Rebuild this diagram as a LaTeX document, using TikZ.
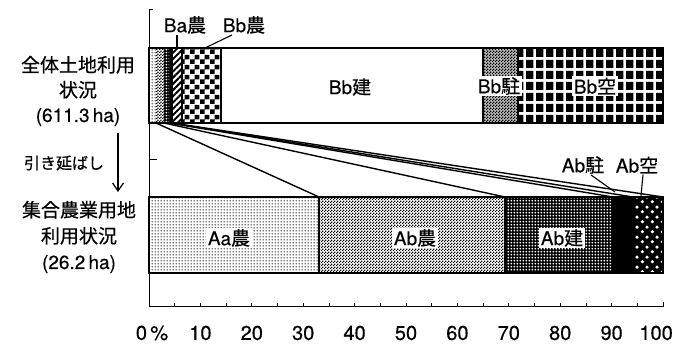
\documentclass[tikz,border=0pt]{standalone}
\usepackage{fontspec}
\setmainfont{TeX Gyre Heros}[FakeBold=0.5]
\newfontfamily\cjk{Noto Sans CJK JP}[FakeBold=0.5]
\usetikzlibrary{patterns,patterns.meta,arrows.meta}

\pgfdeclarepatternformonly{fdots}{\pgfqpoint{0pt}{0pt}}{\pgfqpoint{2.6pt}{2.6pt}}{\pgfqpoint{2.6pt}{2.6pt}}{%
  \pgfpathcircle{\pgfqpoint{1.3pt}{1.3pt}}{0.75pt}\pgfusepath{fill}}
\pgfdeclarepatternformonly{wdots}{\pgfqpoint{0pt}{0pt}}{\pgfqpoint{2.8pt}{2.8pt}}{\pgfqpoint{2.8pt}{2.8pt}}{%
  \pgfpathcircle{\pgfqpoint{1.4pt}{1.4pt}}{0.95pt}\pgfusepath{fill}}
\pgfdeclarepatternformonly{fcheck}{\pgfqpoint{0pt}{0pt}}{\pgfqpoint{3pt}{3pt}}{\pgfqpoint{3pt}{3pt}}{%
  \pgfpathrectangle{\pgfqpoint{0pt}{0pt}}{\pgfqpoint{1.5pt}{1.5pt}}%
  \pgfpathrectangle{\pgfqpoint{1.5pt}{1.5pt}}{\pgfqpoint{1.5pt}{1.5pt}}\pgfusepath{fill}}
\pgfdeclarepatternformonly{bcheck}{\pgfqpoint{0pt}{0pt}}{\pgfqpoint{10pt}{10pt}}{\pgfqpoint{10pt}{10pt}}{%
  \pgfpathrectangle{\pgfqpoint{0pt}{0pt}}{\pgfqpoint{5pt}{5pt}}%
  \pgfpathrectangle{\pgfqpoint{5pt}{5pt}}{\pgfqpoint{5pt}{5pt}}\pgfusepath{fill}}
\pgfdeclarepatternformonly{bigdots}{\pgfqpoint{0pt}{0pt}}{\pgfqpoint{10pt}{10pt}}{\pgfqpoint{10pt}{10pt}}{%
  \pgfpathcircle{\pgfqpoint{2.5pt}{2.5pt}}{1.9pt}%
  \pgfpathcircle{\pgfqpoint{7.5pt}{7.5pt}}{1.9pt}\pgfusepath{fill}}
\pgfdeclarepatternformonly{blocks}{\pgfqpoint{0pt}{0pt}}{\pgfqpoint{10.3pt}{11pt}}{\pgfqpoint{10.3pt}{11pt}}{%
  \pgfpathrectangle{\pgfqpoint{1.3pt}{1.3pt}}{\pgfqpoint{7.7pt}{8.4pt}}\pgfusepath{fill}}

\tikzset{
  lab/.style={font=\fontsize{19}{21}\selectfont, inner sep=1pt},
  wlab/.style={lab, fill=white, inner sep=1.5pt},
  side/.style={font=\fontsize{19}{25}\selectfont, align=center, inner sep=0pt},
  num/.style={font=\fontsize{20}{22}\selectfont, inner sep=0pt},
  seg/.style={draw=black, line width=1.2pt},
  conn/.style={line width=1.4pt},
  lead/.style={line width=1.1pt},
  axisline/.style={line width=1pt},
}

\begin{document}
\begin{tikzpicture}[x=1pt,y=-1pt]
\useasboundingbox (0,0) rectangle (674,344);

% ---------- top bar ----------
\fill[pattern=fdots] (149,48) rectangle (156,123);
\fill[pattern=fcheck] (156,48) rectangle (164,123);
\fill[black] (164,48) rectangle (172,123);
\fill[pattern=wdots, pattern color=white] (164,48) rectangle (169,123);
\fill[pattern={Lines[angle=45,distance=4.4pt,line width=2pt]}] (172,48) rectangle (182,123);
\fill[pattern=bcheck] (182,48) rectangle (221,123);
\fill[gray!55] (483,48) rectangle (518,123);
\fill[pattern=fcheck] (483,48) rectangle (518,123);
\fill[pattern=blocks] (518,48) rectangle (663,123);
\draw[seg] (149,48) rectangle (663,123);
\foreach \xx in {172,182,221,483,518} \draw[seg] (\xx,48) -- (\xx,123);

% ---------- bottom bar ----------
\fill[pattern=fdots] (149,197) rectangle (319,273);
\fill[pattern=fcheck] (319,197) rectangle (505,273);
\fill[black] (505,197) rectangle (663,273);
\fill[pattern=wdots, pattern color=white] (505,197) rectangle (613,273);
\fill[pattern=bigdots, pattern color=white] (633,197) rectangle (663,273);
\draw[seg] (149,197) rectangle (663,273);
\foreach \xx in {319,505,613,633} \draw[seg] (\xx,197) -- (\xx,273);

% ---------- connectors ----------
\coordinate (t1) at (156,123); \coordinate (b1) at (319,197);
\coordinate (t2) at (164,123); \coordinate (b2) at (505,197);
\coordinate (t3) at (169,123); \coordinate (b3) at (613,197);
\coordinate (t4) at (170.5,123); \coordinate (b4) at (633,197);
\coordinate (t5) at (172,123); \coordinate (b5) at (663,197);
\draw[conn] (t1) -- (b1);
\draw[conn] (t2) -- (b2);
\draw[conn] (t3) -- (b3);
\draw[conn] (t4) -- (b4);
\draw[conn] (t5) -- (b5);

% ---------- axes ----------
\coordinate (axTop) at (149,10);
\coordinate (axTopR) at (153,10);
\coordinate (axO) at (149,307);
\coordinate (axR) at (663,307);
\coordinate (axMid) at (149,160);
\coordinate (axMidR) at (157,160);
\draw[axisline] (axTopR) -- (axTop) -- (axO) -- (axR) -- ++(0,-5);
\draw[axisline] (axMid) -- (axMidR);
\foreach \k in {1,...,19} \draw[line width=0.8pt] (149+25.7*\k,307) -- ++(0,-4);

% axis numbers
\node[num] (n0) at (152,333) {0\,\%};
\foreach \k/\v in {1/10,2/20,3/30,4/40,5/50,6/60,7/70,8/80,9/90}
  \node[num] (n\v) at (149+51.4*\k,333) {\v};
\node[num, anchor=east] (n100) at (673,333) {100};

% ---------- bar labels ----------
\node[lab] (lBb) at (350,87) {Bb{\cjk 建}};
\node[wlab] (lBbP) at (499,86) {Bb{\cjk 駐}};
\node[wlab] (lBbK) at (595,86) {Bb{\cjk 空}};
\node[wlab] (lAa) at (229,238) {Aa{\cjk 農}};
\node[wlab] (lAb) at (415,238) {Ab{\cjk 農}};
\node[wlab] (lAbK) at (562,238) {Ab{\cjk 建}};

% labels with leaders
\node[lab] (lBa) at (185,25) {Ba{\cjk 農}};
\node[lab] (lBbN) at (244,25) {Bb{\cjk 農}};
\node[lab] (lAbP) at (583,165) {Ab{\cjk 駐}};
\node[lab] (lAbS) at (637,165) {Ab{\cjk 空}};
\coordinate (pBa) at (177,49);
\coordinate (pBbN) at (203,49);
\coordinate (pAbP) at (615,192);
\coordinate (pAbS) at (641,196);
\draw[lead] (lBa.south -| pBa) -- (pBa);
\draw[lead] ([xshift=-12pt]lBbN.south) -- (pBbN);
\draw[lead] ([xshift=8pt]lAbP.south) -- (pAbP);
\draw[lead] ([xshift=6pt]lAbS.south) -- (pAbS);

% ---------- side labels ----------
\node[side] (sTop) at (78,91) {{\cjk 全体土地利用}\\{\cjk 状況}\\(611.3\,ha)};
\node[side, font=\fontsize{19}{26}\selectfont] (sBot) at (79,237) {{\cjk 集合農業用地}\\{\cjk 利用状況}\\(26.2\,ha)};
\node[font=\fontsize{16}{18}\selectfont, inner sep=0pt] (sMid) at (64,163) {\cjk 引き延ばし};
\coordinate (arA) at (118,133);
\coordinate (arB) at (118,192);
\draw[line width=1.2pt, -{Straight Barb[length=8pt,width=11pt,line width=1.2pt]}] (arA) -- (arB);
\end{tikzpicture}
\end{document}
